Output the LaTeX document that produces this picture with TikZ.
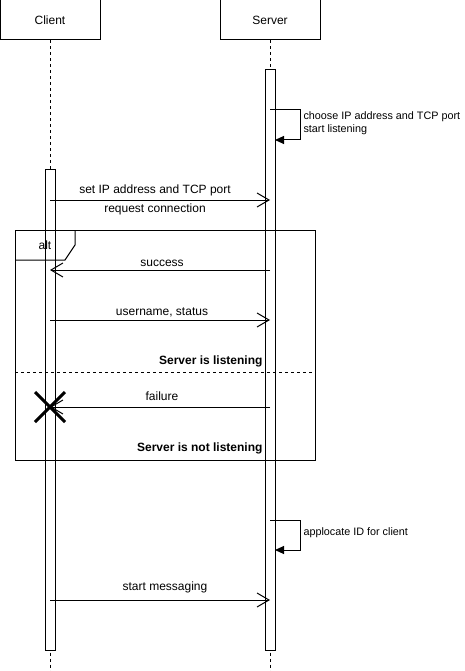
\documentclass[tikz,border=0pt]{standalone}
\usepackage{fontspec}
\setmainfont{Liberation Sans}
\usetikzlibrary{arrows.meta}
\begin{document}
\begin{tikzpicture}[x=1pt,y=-1pt,line width=1pt,
  actor/.style={draw,minimum width=100pt,minimum height=40pt,font=\fontsize{12}{14}\selectfont,inner sep=0pt},
  act/.style={draw,fill=white,minimum width=10pt,inner sep=0pt},
  lifeline/.style={dashed,dash pattern=on 3pt off 3pt},
  msg/.style={-{Straight Barb[length=12pt,width=14pt,line width=1pt]}},
  selfmsg/.style={-{Triangle[length=9pt,width=8pt]}},
  lbl/.style={font=\fontsize{12}{14}\selectfont,inner sep=0pt},
  slbl/.style={font=\fontsize{10.8}{13}\selectfont,inner sep=0pt},
  blbl/.style={font=\fontsize{12}{14}\selectfont\bfseries,inner sep=0pt}]
\useasboundingbox (0,0) rectangle (464,671);
% actors
\node[actor] (client) at (50,20) {Client};
\node[actor] (server) at (270,20) {Server};
\coordinate (cend) at (50,671);
\coordinate (send) at (270,671);
\draw[lifeline] (client.south) -- (cend);
\draw[lifeline] (server.south) -- (send);
% activations
\node[act,minimum height=580pt] (sact) at (270,360) {};
\node[act,minimum height=480pt] (cact) at (50,410) {};
% self message 1
\coordinate (s1a) at (270,110);
\coordinate (s1b) at (300,110);
\coordinate (s1c) at (300,140);
\coordinate (s1d) at (275,140);
\draw[selfmsg] (s1a) -- (s1b) -- (s1c) -- (s1d);
\node[slbl,anchor=west,align=left] (s1l) at (303,123) {choose IP address and TCP port\\start listening};
% set IP
\coordinate (m1a) at (50,200);
\coordinate (m1b) at (270,200);
\draw[msg] (m1a) -- (m1b);
\node[lbl] (m1l) at (155,190) {set IP address and TCP port};
\node[lbl] (m1l2) at (155,209) {request connection};
% alt frame
\coordinate (fa) at (15,230);
\coordinate (fb) at (315,460);
\draw (fa) rectangle (fb);
\draw (15,260) -- (65,260) -- (75,245) -- (75,230);
\node[lbl] (altl) at (45,245) {alt};
% success
\coordinate (m2a) at (270,270);
\coordinate (m2b) at (50,270);
\draw[msg] (m2a) -- (m2b);
\node[lbl] (m2l) at (162,263) {success};
% username
\coordinate (m3a) at (50,320);
\coordinate (m3b) at (270,320);
\draw[msg] (m3a) -- (m3b);
\node[lbl] (m3l) at (162,312) {username, status};
\node[blbl,anchor=east] (g1) at (263,361) {Server is listening};
\draw[dashed,dash pattern=on 3pt off 3pt] (15,372) -- (315,372);
% failure
\coordinate (m4a) at (270,407);
\coordinate (m4b) at (50,407);
\draw[msg] (m4a) -- (m4b);
\node[lbl] (m4l) at (162,396) {failure};
\draw[line width=3pt] (35,392) -- (65,422);
\draw[line width=3pt] (35,422) -- (65,392);
\node[blbl,anchor=east] (g2) at (263,448) {Server is not listening};
% self message 2
\coordinate (s2a) at (270,520);
\coordinate (s2b) at (300,520);
\coordinate (s2c) at (300,550);
\coordinate (s2d) at (275,550);
\draw[selfmsg] (s2a) -- (s2b) -- (s2c) -- (s2d);
\node[slbl,anchor=west] (s2l) at (303,533) {applocate ID for client};
% start messaging
\coordinate (m5a) at (50,600);
\coordinate (m5b) at (270,600);
\draw[msg] (m5a) -- (m5b);
\node[lbl] (m5l) at (165,587) {start messaging};
\end{tikzpicture}
\end{document}
